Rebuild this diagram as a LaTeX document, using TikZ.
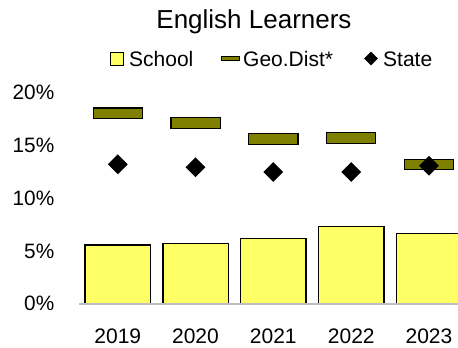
\documentclass[tikz,border=0pt]{standalone}
\usepackage{fontspec}
\setmainfont{Liberation Sans}
\usetikzlibrary{shapes.geometric}
\definecolor{schoolyellow}{HTML}{FFFF66}
\definecolor{geoolive}{HTML}{808000}
\begin{document}
\begin{tikzpicture}[x=1pt,y=-1pt,
  bar/.style={draw=black,line width=1.4pt,fill=schoolyellow},
  geobox/.style={draw=black,line width=1.3pt,fill=geoolive},
  statemark/.style={diamond,fill=black,inner sep=0pt,minimum width=20pt,minimum height=20pt},
  ticklab/.style={font=\fontsize{20.8}{22}\selectfont,anchor=east,inner sep=0pt},
  yearlab/.style={font=\fontsize{21}{23}\selectfont,anchor=center,inner sep=0pt},
  leglab/.style={font=\fontsize{21}{23}\selectfont,anchor=west,inner sep=0pt}]
\useasboundingbox (0,0) rectangle (458,348);
\clip (0,0) rectangle (458,348);
% title
\node[font=\fontsize{26}{28}\selectfont,inner sep=0pt] (title) at (254,22) {English Learners};
% legend
\node[draw=black,line width=1.2pt,fill=schoolyellow,minimum size=13pt,inner sep=0pt] (legS) at (117,59) {};
\node[leglab] (legStxt) at (129,59) {School};
\draw[line width=5pt,black] (221,58.5) -- (240,58.5);
\draw[line width=2.6pt,geoolive] (222.2,58.5) -- (238.8,58.5);
\coordinate (legG) at (230,58.5);
\node[leglab] (legGtxt) at (243,59) {Geo.Dist*};
\node[diamond,fill=black,inner sep=0pt,minimum width=14pt,minimum height=14pt] (legD) at (371,58.5) {};
\node[leglab] (legDtxt) at (383,59) {State};
% y tick labels
\node[ticklab] (t20) at (54.5,92.5) {20\%};
\node[ticklab] (t15) at (54.5,145) {15\%};
\node[ticklab] (t10) at (54.5,198) {10\%};
\node[ticklab] (t5) at (54.5,251) {5\%};
\node[ticklab] (t0) at (54.5,303.5) {0\%};
% bars (0% at y=303.3, 10.53 px per %)
\draw[bar] (85,303.3) rectangle (150.7,245);
\draw[bar] (163,303.3) rectangle (228.3,243.3);
\draw[bar] (240.7,303.3) rectangle (306,238.3);
\draw[bar] (318.7,303.3) rectangle (384,226.7);
\draw[bar] (396.3,303.3) rectangle (462,233.3);
% axis
\draw[line width=1.5pt,black!25] (79,304) -- (458,304);
% geo dist
\draw[geobox] (93.3,108) rectangle (142.7,118.5);
\draw[geobox] (171,117.7) rectangle (220.2,128.2);
\draw[geobox] (248.7,133.8) rectangle (298,144.5);
\draw[geobox] (326.7,132.7) rectangle (375.8,143.5);
\draw[geobox] (404.3,159.2) rectangle (453.3,169.8);
% state
\node[statemark] (s19) at (117.8,164.3) {};
\node[statemark] (s20) at (195.5,167.3) {};
\node[statemark] (s21) at (273.3,172) {};
\node[statemark] (s22) at (351.3,172) {};
\node[statemark] (s23) at (429,165.7) {};
% year labels
\node[yearlab] (y19) at (117.8,336.5) {2019};
\node[yearlab] (y20) at (195.5,336.5) {2020};
\node[yearlab] (y21) at (273.3,336.5) {2021};
\node[yearlab] (y22) at (351.3,336.5) {2022};
\node[yearlab] (y23) at (429,336.5) {2023};
\end{tikzpicture}
\end{document}
